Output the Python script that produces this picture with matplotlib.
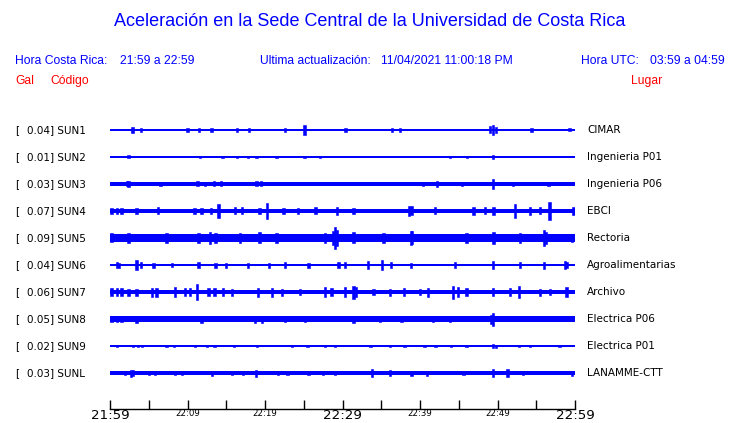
import numpy as np
import matplotlib
matplotlib.use('Agg')
import matplotlib.pyplot as plt

# estaciones, de arriba a abajo
codes = ['SUN1', 'SUN2', 'SUN3', 'SUN4', 'SUN5', 'SUN6', 'SUN7', 'SUN8', 'SUN9', 'SUNL']
places = ['CIMAR', 'Ingenieria P01', 'Ingenieria P06', 'EBCI', 'Rectoria',
          'Agroalimentarias', 'Archivo', 'Electrica P06', 'Electrica P01', 'LANAMME-CTT']
gal = [0.04, 0.01, 0.03, 0.07, 0.09, 0.04, 0.06, 0.05, 0.02, 0.03]

# ancho de la banda continua de cada traza (media altura, pixeles)
band = [1.4, 0.6, 2.0, 2.4, 3.6, 1.4, 2.4, 2.8, 0.7, 2.0]

# picos: (minuto desde 21:59, media altura en pixeles)
spikes = [
    [(2.9, 3), (4.0, 2), (10.0, 2), (11.5, 2), (13.1, 2), (16.4, 1.8), (17.9, 2.2), (22.6, 2),
     (25.1, 5), (30.4, 2), (36.4, 2), (37.4, 1.8), (49.0, 3.5), (49.4, 5), (49.8, 3), (54.4, 2.2),
     (59.3, 1.5)],
    [(2.4, 1.5), (11.6, 1), (14.5, 1), (16.4, 1.3), (17.8, 1), (18.9, 1), (21.5, 1), (25.1, 1),
     (27.1, 1), (43.9, 1), (46.1, 1), (49.4, 2.2)],
    [(2.2, 2.5), (2.4, 2.8), (6.5, 2.2), (11.3, 2.5), (12.3, 2.2), (13.4, 2.5), (14.3, 2.5),
     (18.9, 2.5), (19.5, 2.5), (40.4, 2.2), (42.2, 2.8), (45.4, 2.2), (49.4, 5), (52.0, 2.2),
     (56.6, 2.2)],
    [(0.2, 3), (0.9, 3), (1.5, 3), (3.4, 3), (6.2, 3.5), (10.9, 3), (11.8, 3.2), (13.0, 3.2),
     (14.0, 6.7), (16.1, 3.5), (17.0, 3.5), (19.3, 3), (20.3, 8.3), (22.4, 3.2), (24.3, 3),
     (26.5, 3.5), (29.3, 4), (31.4, 3), (38.6, 5), (38.9, 4.5), (41.9, 3.5), (46.9, 4),
     (48.4, 3.5), (49.5, 4), (52.3, 7.3), (54.2, 4), (55.5, 3.5), (56.7, 9.3), (59.8, 4)],
    [(0.2, 4.5), (2.4, 5), (7.3, 5), (11.4, 5), (12.9, 6), (13.6, 5), (16.8, 5), (19.3, 5.5),
     (21.5, 5), (27.7, 5), (28.8, 7), (29.0, 10.5), (29.3, 8), (31.4, 5.5), (35.3, 5), (38.8, 7),
     (39.0, 6.5), (46.0, 5), (49.5, 6), (52.9, 5), (56.0, 8), (56.3, 6), (59.6, 4)],
    [(0.9, 3), (1.2, 2.5), (3.4, 5), (4.0, 3), (5.6, 2.5), (8.0, 2.2), (11.4, 3), (13.6, 2.5),
     (15.0, 2.5), (17.8, 2.5), (20.5, 2.5), (22.6, 3), (25.6, 2.5), (29.5, 3), (30.3, 3),
     (33.3, 4), (35.1, 5), (36.3, 3), (38.8, 2.5), (44.5, 3), (49.4, 4), (52.9, 3), (56.0, 3.5),
     (58.7, 4), (58.9, 3)],
    [(0.2, 4), (0.9, 4), (1.5, 4), (2.4, 3.5), (3.4, 3.5), (5.4, 4.5), (6.0, 4.5), (8.4, 5),
     (9.7, 4), (10.3, 4), (11.2, 8.3), (12.7, 4), (13.5, 4), (14.6, 4), (15.7, 3.5), (19.1, 4.5),
     (20.9, 4.5), (22.2, 3.5), (24.5, 3), (27.7, 5), (28.6, 4), (30.3, 5), (31.4, 6.5), (31.7, 5),
     (34.0, 3), (36.1, 3.5), (37.9, 4), (40.0, 3), (41.0, 4.5), (44.3, 6.5), (44.9, 5), (46.0, 4),
     (49.4, 4), (51.6, 4), (52.8, 6), (55.5, 3.5), (56.8, 3), (58.9, 5)],
    [(0.2, 3), (0.9, 3), (1.5, 3), (3.4, 3.5), (11.8, 3.5), (18.7, 3.5), (19.6, 3.5), (22.6, 3),
     (25.2, 3), (31.4, 3.5), (34.8, 3), (37.6, 3), (41.7, 3), (43.9, 3), (49.2, 4.5), (49.4, 6.5)],
    [(0.9, 1.2), (3.0, 1.3), (3.6, 1.3), (4.1, 1.3), (7.3, 1.2), (8.3, 1), (11.0, 1.2),
     (12.5, 1.2), (13.5, 1.2), (16.0, 1.2), (19.0, 1.2), (23.5, 1.2), (25.5, 1.2), (27.7, 1.2),
     (29.0, 1.2), (33.6, 1), (36.1, 1.2), (38.0, 1), (40.6, 1.2), (42.0, 1), (44.0, 1.2),
     (46.0, 1.2), (49.4, 2), (49.8, 1.5), (52.8, 1), (54.2, 1), (58.0, 1)],
    [(1.9, 2.2), (2.7, 3.5), (3.0, 3), (5.0, 2.2), (5.8, 2.2), (8.4, 2.2), (9.3, 2.2),
     (13.2, 2.5), (15.7, 2.2), (17.2, 2.2), (18.8, 3.5), (21.7, 2.2), (22.9, 2.2), (25.6, 2.2),
     (27.5, 2.2), (29.0, 2.2), (33.8, 4), (36.1, 3), (38.9, 2.5), (40.9, 2.5), (45.6, 2.2),
     (49.4, 4), (51.3, 4), (53.3, 2.2), (59.6, 2.5)],
]

tick_min = np.arange(0, 61, 5)
tick_lbl = ['21:59', '', '22:09', '', '22:19', '', '22:29', '', '22:39', '', '22:49', '', '22:59']
big_lbl = ['21:59', '22:29', '22:59']

W, H = 740, 423
BLUE = '#0000ff'
RED = '#ff0000'
hdr = 'Liberation Sans'

fig = plt.figure(figsize=(W / 100, H / 100), dpi=100)
fig.patch.set_facecolor('white')

def fx(px):
    return px / W

def fy(py):
    return 1 - py / H

# encabezado
fig.text(fx(370), fy(22), 'Aceleración en la Sede Central de la Universidad de Costa Rica',
         color=BLUE, fontsize=13, family=hdr, ha='center', va='center')
fig.text(fx(15), fy(61), 'Hora Costa Rica:', color=BLUE, fontsize=8.7, family=hdr, va='center')
fig.text(fx(120), fy(61), '21:59 a 22:59', color=BLUE, fontsize=8.7, family=hdr, va='center')
fig.text(fx(260), fy(61), 'Ultima actualización:', color=BLUE, fontsize=8.7, family=hdr, va='center')
fig.text(fx(381), fy(61), '11/04/2021 11:00:18 PM', color=BLUE, fontsize=8.7, family=hdr, va='center')
fig.text(fx(581), fy(61), 'Hora UTC:', color=BLUE, fontsize=8.7, family=hdr, va='center')
fig.text(fx(650), fy(61), '03:59 a 04:59', color=BLUE, fontsize=8.7, family=hdr, va='center')
fig.text(fx(15), fy(81), 'Gal', color=RED, fontsize=8.7, family=hdr, va='center')
fig.text(fx(50), fy(81), 'Código', color=RED, fontsize=8.7, family=hdr, va='center')
fig.text(fx(631), fy(81), 'Lugar', color=RED, fontsize=8.7, family=hdr, va='center')

# trazas: una fila por estacion, 27 px entre filas
row0, step = 130, 27
n = len(codes)
top = row0 - step / 2
ax = fig.add_axes([fx(110), fy(top + n * step), fx(575) - fx(110), n * step / H])
ax.set_xlim(0, 60)
ax.set_ylim(n - 0.5, -0.5)
ax.axis('off')

for i in range(n):
    b = band[i] / step
    ax.fill_between([0, 60], i - b, i + b, color=BLUE, lw=0)
    m = np.array([s[0] for s in spikes[i]])
    h = np.array([s[1] for s in spikes[i]]) / step
    ax.bar(m, 2 * h, bottom=i - h, width=0.3, color=BLUE, edgecolor=BLUE, lw=0.4)
    y = row0 + i * step
    fig.text(fx(15), fy(y), '[', fontsize=7.5, va='center')
    fig.text(fx(27), fy(y), f'{gal[i]:.2f}] {codes[i]}', fontsize=7.5, va='center')
    fig.text(fx(587), fy(y), places[i], fontsize=7.5, va='center')

# eje de tiempo
axt = fig.add_axes([fx(110), fy(409), fx(575) - fx(110), 0.0001])
axt.set_xlim(0, 60)
axt.set_yticks([])
for s in ['top', 'left', 'right']:
    axt.spines[s].set_visible(False)
axt.spines['bottom'].set_linewidth(1)
axt.set_xticks(tick_min)
axt.set_xticklabels(tick_lbl)
axt.tick_params(axis='x', direction='in', length=6.5, width=1, pad=0.3)
for lbl in axt.get_xticklabels():
    lbl.set_fontsize(9.6 if lbl.get_text() in big_lbl else 6.2)

fig.savefig('out.png', dpi=100)
